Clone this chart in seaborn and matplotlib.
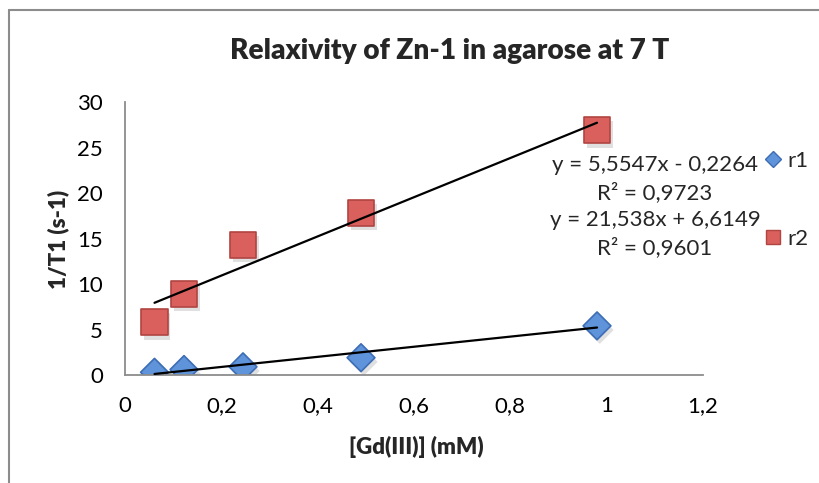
import numpy as np
import pandas as pd
import matplotlib
matplotlib.use("Agg")
import matplotlib.pyplot as plt
import matplotlib.patheffects as pe
from matplotlib.lines import Line2D
import seaborn as sns

# data
conc = [0.06125, 0.1225, 0.245, 0.49, 0.98]
r1_vals = [0.3, 0.6, 0.9, 1.9, 5.4]
r2_vals = [5.8, 8.9, 14.3, 17.8, 26.9]
series = ["r1", "r2"]
fit_slope = [5.5547, 21.538]
fit_intercept = [-0.2264, 6.6149]
fit_r2 = [0.9723, 0.9601]
x_ticks = [0, 0.2, 0.4, 0.6, 0.8, 1.0, 1.2]
y_ticks = [0, 5, 10, 15, 20, 25, 30]

colors = {"r1": "#5F93DA", "r2": "#D9605C"}
edges = {"r1": "#3D6DB5", "r2": "#B04542"}
markers = {"r1": "D", "r2": "s"}

df = pd.DataFrame({
    "conc": conc * 2,
    "rate": r1_vals + r2_vals,
    "series": ["r1"] * len(conc) + ["r2"] * len(conc),
})

# trendlines from the fitted equations, over the data range
fit_rows = []
for name, m, b in zip(series, fit_slope, fit_intercept):
    for x in (min(conc), max(conc)):
        fit_rows.append({"conc": x, "rate": m * x + b, "series": name})
fit_df = pd.DataFrame(fit_rows)

sns.set_theme(style="white")
plt.rcParams['font.family'] = ['Lato', 'DejaVu Sans']

W, H = 820, 483
fig = plt.figure(figsize=(W / 100, H / 100), dpi=100)
ax = fig.add_axes([125 / W, 1 - 375 / H, 578 / W, 273 / H])

for name in series:
    sub = fit_df[fit_df["series"] == name]
    sns.lineplot(data=sub, x="conc", y="rate", color="black", lw=1.6, ax=ax, zorder=3)

shadow = [pe.SimplePatchShadow(offset=(2, -3), alpha=0.2, shadow_rgbFace="#666666"), pe.Normal()]
for name, size in zip(series, [200, 360]):
    sub = df[df["series"] == name]
    sc = ax.scatter(sub["conc"], sub["rate"], marker=markers[name], s=size,
                    color=colors[name], edgecolor=edges[name], linewidth=1.2, zorder=2)
    sc.set_path_effects(shadow)

ax.set_xlim(0, 1.2)
ax.set_ylim(0, 30)
ax.set_xticks(x_ticks)
ax.set_yticks(y_ticks)
ax.set_xticklabels([f"{t:g}".replace(".", ",") for t in x_ticks])
ax.set_yticklabels([str(t) for t in y_ticks])
for s in ["top", "right"]:
    ax.spines[s].set_visible(False)
for s in ["left", "bottom"]:
    ax.spines[s].set_color("#8C8C8C")
    ax.spines[s].set_linewidth(1.3)
ax.tick_params(axis="both", direction="out", length=6, width=1.2, color="#8C8C8C",
               labelsize=16, labelcolor="black")
ax.tick_params(axis="y", pad=10)
ax.tick_params(axis="x", pad=9)
ax.set_xlabel("")
ax.set_ylabel("")

title = fig.text(450 / W, 1 - 51 / H, "Relaxivity of Zn-1 in agarose at 7 T",
                 ha="center", va="center", fontsize=20, fontweight="heavy")
# scale the title to the width it has in the reference
renderer = fig.canvas.get_renderer()
tw = title.get_window_extent(renderer).width
title.set_fontsize(20 * 438 / tw)

fig.text(416 / W, 1 - 447 / H, "[Gd(III)] (mM)", ha="center", va="center",
         fontsize=16, fontweight="heavy")
fig.text(58 / W, 1 - 239 / H, "1/T1 (s-1)", ha="center", va="center",
         fontsize=16, fontweight="heavy", rotation=90)

eq_y = [165, 220]
for i, name in enumerate(series):
    b = fit_intercept[i]
    sign = "-" if b < 0 else "+"
    eq = f"y = {fit_slope[i]:g}x {sign} {abs(b):g}".replace(".", ",")
    r2 = f"R² = {fit_r2[i]:.4f}".replace(".", ",")
    fig.text(655 / W, 1 - eq_y[i] / H, eq, ha="center", va="center", fontsize=16)
    fig.text(655 / W, 1 - (eq_y[i] + 28) / H, r2, ha="center", va="center", fontsize=16)

handles = [Line2D([], [], marker=markers[n], ls="", markersize=8.5 if n == "r1" else 9.5,
                  markerfacecolor=colors[n], markeredgecolor=edges[n]) for n in series]
ax.legend(handles, series, loc="upper left", bbox_to_anchor=(764 / W, 1 - 151 / H),
          bbox_transform=fig.transFigure, frameon=False, fontsize=16,
          labelspacing=2.6, handlelength=0.8, handletextpad=0.25, borderpad=0,
          borderaxespad=0)

# chart-area frame (left and top edges visible in the crop)
fig.add_artist(Line2D([9 / W, 9 / W], [0, 1 - 10 / H], color="#8C8C8C", lw=1.5))
fig.add_artist(Line2D([9 / W, 1], [1 - 10 / H, 1 - 10 / H], color="#8C8C8C", lw=1.5))

fig.savefig("out.png", dpi=100)
